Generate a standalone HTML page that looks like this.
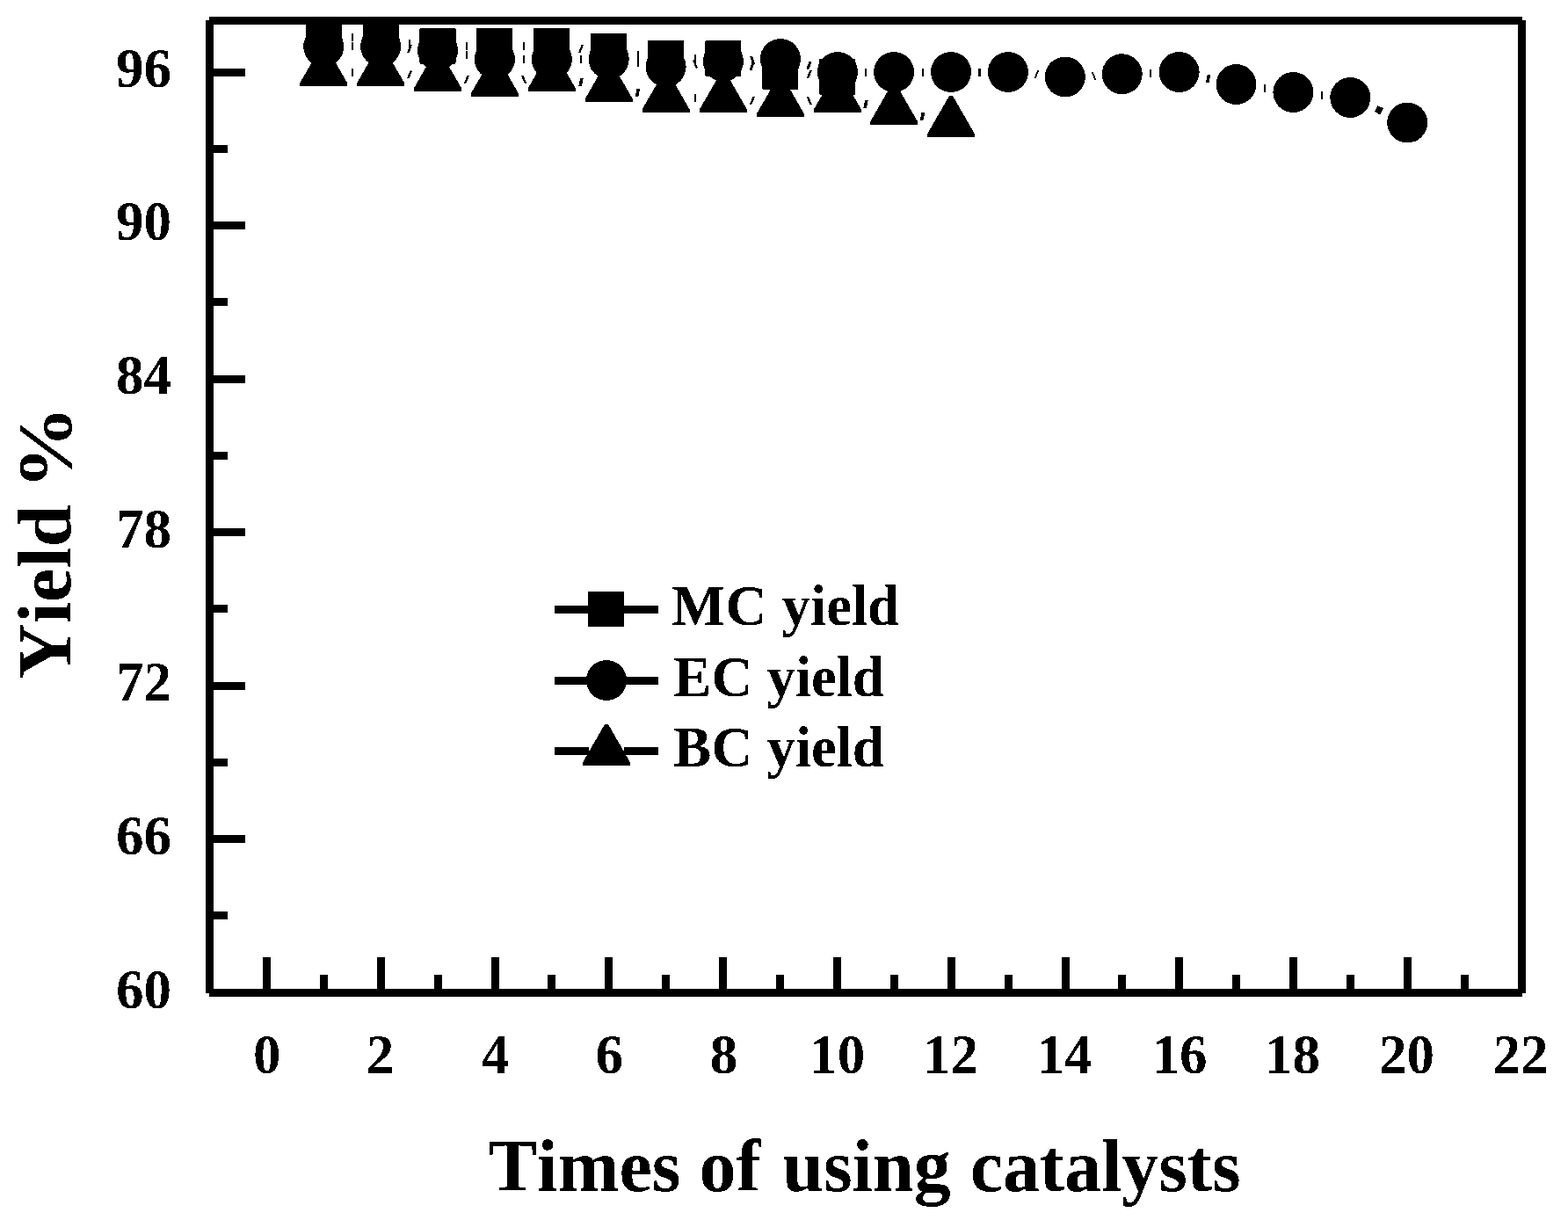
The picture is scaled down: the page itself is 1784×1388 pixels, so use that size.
<!DOCTYPE html>
<html lang="en"><head><meta charset="utf-8"><title>Times of using catalysts</title>
<style>
html,body{margin:0;padding:0;background:#fff;}
body{width:1784px;height:1388px;overflow:hidden;}
svg{display:block;}
text{font-family:"Liberation Serif","DejaVu Serif",serif;font-weight:bold;fill:#000;font-kerning:none;}
.tick{font-size:63px;}
.leg{font-size:65px;}
.xt{font-size:84px;}
.yt{font-size:87px;}
</style></head><body>
<svg width="1784" height="1388" viewBox="0 0 1784 1388">
<defs><filter id="bw" filterUnits="userSpaceOnUse" x="0" y="0" width="1784" height="1388" color-interpolation-filters="sRGB"><feComponentTransfer><feFuncR type="discrete" tableValues="0 1"/><feFuncG type="discrete" tableValues="0 1"/><feFuncB type="discrete" tableValues="0 1"/></feComponentTransfer></filter></defs>
<g id="chart" filter="url(#bw)">
<rect x="0" y="0" width="1784" height="1388" fill="#fff"/>
<g id="frame" fill="#000" shape-rendering="crispEdges">
<rect x="234" y="23" width="9" height="1107"/>
<rect x="1727" y="23" width="9" height="1107"/>
<rect x="238" y="19" width="1494" height="9"/>
<rect x="238" y="1125" width="1494" height="9"/>
</g>
<g id="yticks" fill="#000" shape-rendering="crispEdges">
<rect x="243" y="1037" width="16" height="9"/>
<rect x="243" y="950" width="36" height="9"/>
<rect x="243" y="863" width="16" height="9"/>
<rect x="243" y="776" width="36" height="9"/>
<rect x="243" y="688" width="16" height="9"/>
<rect x="243" y="601" width="36" height="9"/>
<rect x="243" y="514" width="16" height="9"/>
<rect x="243" y="427" width="36" height="9"/>
<rect x="243" y="339" width="16" height="9"/>
<rect x="243" y="252" width="36" height="9"/>
<rect x="243" y="165" width="16" height="9"/>
<rect x="243" y="78" width="36" height="9"/>
</g>
<g id="xticks" fill="#000" shape-rendering="crispEdges">
<rect x="299" y="1089" width="9" height="36"/>
<rect x="364" y="1109" width="9" height="16"/>
<rect x="429" y="1089" width="9" height="36"/>
<rect x="494" y="1109" width="9" height="16"/>
<rect x="559" y="1089" width="9" height="36"/>
<rect x="623" y="1109" width="9" height="16"/>
<rect x="688" y="1089" width="9" height="36"/>
<rect x="753" y="1109" width="9" height="16"/>
<rect x="818" y="1089" width="9" height="36"/>
<rect x="883" y="1109" width="9" height="16"/>
<rect x="948" y="1089" width="9" height="36"/>
<rect x="1013" y="1109" width="9" height="16"/>
<rect x="1078" y="1089" width="9" height="36"/>
<rect x="1143" y="1109" width="9" height="16"/>
<rect x="1208" y="1089" width="9" height="36"/>
<rect x="1272" y="1109" width="9" height="16"/>
<rect x="1337" y="1089" width="9" height="36"/>
<rect x="1402" y="1109" width="9" height="16"/>
<rect x="1467" y="1089" width="9" height="36"/>
<rect x="1532" y="1109" width="9" height="16"/>
<rect x="1597" y="1089" width="9" height="36"/>
<rect x="1662" y="1109" width="9" height="16"/>
</g>
<g id="ylabels" class="tick" text-anchor="end">
<text x="195" y="1146.7">60</text>
<text x="195" y="972.0">66</text>
<text x="195" y="797.4">72</text>
<text x="195" y="622.7">78</text>
<text x="195" y="448.0">84</text>
<text x="195" y="273.4">90</text>
<text x="195" y="98.7">96</text>
</g>
<g id="xlabels" class="tick" text-anchor="middle">
<text x="303.8" y="1220.5">0</text>
<text x="432.6" y="1220.5">2</text>
<text x="563.4" y="1220.5">4</text>
<text x="693.2" y="1220.5">6</text>
<text x="823.6" y="1220.5">8</text>
<text x="952.8" y="1220.5">10</text>
<text x="1081.5" y="1220.5">12</text>
<text x="1211.1" y="1220.5">14</text>
<text x="1342.1" y="1220.5">16</text>
<text x="1470.6" y="1220.5">18</text>
<text x="1600.4" y="1220.5">20</text>
<text x="1730.0" y="1220.5">22</text>
</g>
<text class="xt" y="1355"><tspan x="555.2">Times</tspan> <tspan x="795.5">of</tspan> <tspan x="890.2">using</tspan> <tspan x="1103.7">catalysts</tspan></text>
<text class="yt" transform="translate(80,772.2) rotate(-90)">Yield</text>
<text class="yt" transform="translate(80,556.8) rotate(-90) scale(1.0925,1)">%</text>
<g id="lines" fill="#000">
<rect x="400.0" y="38.0" width="2" height="9"/>
<rect x="465.0" y="45.0" width="2" height="9"/>
<rect x="530.0" y="48.0" width="2" height="9"/>
<rect x="595.0" y="48.0" width="2" height="9"/>
<polygon points="658.0,59.9 660.5,59.9 664.0,51.1 661.5,51.1"/>
<rect x="725.0" y="58.0" width="2" height="9"/>
<rect x="790.0" y="62.0" width="2" height="9"/>
<polygon points="852.4,79.9 855.4,79.9 858.6,71.1 855.6,71.1"/>
<polygon points="917.8,88.9 920.2,88.9 923.7,80.1 921.2,80.1"/>
<rect x="400.0" y="48.0" width="2" height="9"/>
<polygon points="463.1,60.0 465.6,60.0 468.9,51.2 466.4,51.2"/>
<rect x="530.0" y="57.8" width="2" height="9"/>
<rect x="595.0" y="63.0" width="2" height="9"/>
<rect x="660.0" y="63.0" width="2" height="9"/>
<rect x="725.0" y="66.7" width="2" height="9"/>
<polygon points="791.5,77.4 794.0,77.4 790.5,68.6 788.0,68.6"/>
<polygon points="856.1,72.6 859.1,72.6 855.9,63.8 852.9,63.8"/>
<polygon points="917.4,78.6 920.4,78.6 923.6,69.8 920.6,69.8"/>
<rect x="984.0" y="78.0" width="2" height="9"/>
<rect x="1049.0" y="78.0" width="2" height="9"/>
<rect x="1113.0" y="78.0" width="3" height="9"/>
<polygon points="1176.9,88.8 1178.9,88.8 1182.1,80.0 1180.1,80.0"/>
<polygon points="1245.1,90.7 1247.1,90.7 1243.9,81.9 1241.9,81.9"/>
<rect x="1308.0" y="78.9" width="2" height="9"/>
<polygon points="1371.9,93.9 1375.5,93.9 1377.3,85.1 1373.7,85.1"/>
<rect x="1438.0" y="95.9" width="2" height="9"/>
<rect x="1503.0" y="104.0" width="2" height="9"/>
<rect x="400.0" y="78.0" width="2" height="9"/>
<polygon points="463.1,89.2 465.6,89.2 468.9,80.4 466.4,80.4"/>
<polygon points="528.0,94.7 530.5,94.7 534.0,85.9 531.5,85.9"/>
<polygon points="596.5,94.7 599.0,94.7 595.5,85.9 593.0,85.9"/>
<polygon points="658.3,97.9 661.9,97.9 663.7,89.1 660.1,89.1"/>
<polygon points="722.8,109.7 726.4,109.7 728.2,100.9 724.6,100.9"/>
<rect x="790.0" y="106.9" width="2" height="9"/>
<polygon points="853.0,118.8 855.5,118.8 859.0,110.0 856.5,110.0"/>
<polygon points="921.2,118.9 923.7,118.9 920.2,110.1 917.8,110.1"/>
<polygon points="982.3,122.9 985.9,122.9 987.7,114.1 984.1,114.1"/>
<polygon points="1046.8,136.9 1050.4,136.9 1052.2,128.1 1048.6,128.1"/>
<polygon points="1564,127.1 1567.2,120 1573.8,122.9 1570.3,130.7"/>
</g>
<g id="mc" fill="#000">
<rect x="347.7" y="22.0" width="41" height="41" rx="1"/>
<rect x="412.6" y="22.0" width="41" height="41" rx="1"/>
<rect x="477.5" y="31.8" width="41" height="41" rx="1"/>
<rect x="542.4" y="31.8" width="41" height="41" rx="1"/>
<rect x="607.3" y="31.8" width="41" height="41" rx="1"/>
<rect x="672.2" y="38.0" width="41" height="41" rx="1"/>
<rect x="737.1" y="46.0" width="41" height="41" rx="1"/>
<rect x="802.4" y="46.0" width="41" height="41" rx="1"/>
<rect x="867.4" y="60.8" width="41" height="41" rx="1"/>
<rect x="932.4" y="66.8" width="41" height="41" rx="1"/>
</g>
<g id="ec" fill="#000">
<circle cx="368.2" cy="53.0" r="23"/>
<circle cx="433.1" cy="52.8" r="23"/>
<circle cx="498.0" cy="57.2" r="23"/>
<circle cx="562.9" cy="67.4" r="23"/>
<circle cx="627.8" cy="67.5" r="23"/>
<circle cx="692.7" cy="67.2" r="23"/>
<circle cx="757.6" cy="76.0" r="23"/>
<circle cx="822.9" cy="69.7" r="23"/>
<circle cx="887.9" cy="67.0" r="23"/>
<circle cx="952.9" cy="82.0" r="23"/>
<circle cx="1017.1" cy="82.0" r="23"/>
<circle cx="1082.0" cy="82.0" r="23"/>
<circle cx="1146.9" cy="82.0" r="23"/>
<circle cx="1211.8" cy="87.5" r="23"/>
<circle cx="1276.7" cy="84.2" r="23"/>
<circle cx="1341.6" cy="82.0" r="23"/>
<circle cx="1406.5" cy="96.0" r="23"/>
<circle cx="1471.4" cy="105.0" r="23"/>
<circle cx="1536.3" cy="111.0" r="23"/>
<circle cx="1601.2" cy="139.5" r="23"/>
</g>
<g id="bc" fill="#000">
<polygon points="341.2,98.0 341.2,94.6 366.2,51.0 370.2,51.0 395.2,94.6 395.2,98.0"/>
<polygon points="406.1,98.0 406.1,94.6 431.1,51.0 435.1,51.0 460.1,94.6 460.1,98.0"/>
<polygon points="471.0,103.7 471.0,100.3 496.0,56.7 500.0,56.7 525.0,100.3 525.0,103.7"/>
<polygon points="535.9,109.7 535.9,106.3 560.9,62.7 564.9,62.7 589.9,106.3 589.9,109.7"/>
<polygon points="600.8,103.7 600.8,100.3 625.8,56.7 629.8,56.7 654.8,100.3 654.8,103.7"/>
<polygon points="665.7,115.9 665.7,112.5 690.7,68.9 694.7,68.9 719.7,112.5 719.7,115.9"/>
<polygon points="730.6,128.0 730.6,124.6 755.6,81.0 759.6,81.0 784.6,124.6 784.6,128.0"/>
<polygon points="795.9,128.0 795.9,124.6 820.9,81.0 824.9,81.0 849.9,124.6 849.9,128.0"/>
<polygon points="860.9,133.0 860.9,129.6 885.9,86.0 889.9,86.0 914.9,129.6 914.9,133.0"/>
<polygon points="925.9,127.9 925.9,124.5 950.9,80.9 954.9,80.9 979.9,124.5 979.9,127.9"/>
<polygon points="990.1,141.9 990.1,138.5 1015.1,94.9 1019.1,94.9 1044.1,138.5 1044.1,141.9"/>
<polygon points="1055.0,155.9 1055.0,152.5 1080.0,108.9 1084.0,108.9 1109.0,152.5 1109.0,155.9"/>
</g>
<g id="legend" fill="#000">
<rect x="631" y="689" width="118" height="9" shape-rendering="crispEdges"/>
<rect x="669" y="673" width="41" height="40" rx="1"/>
<rect x="631" y="770" width="118" height="9" shape-rendering="crispEdges"/>
<circle cx="690" cy="774" r="23"/>
<rect x="631" y="850" width="39" height="9" shape-rendering="crispEdges"/>
<rect x="710" y="850" width="39" height="9" shape-rendering="crispEdges"/>
<polygon points="663.0,871.0 663.0,867.6 688.0,824.0 692.0,824.0 717.0,867.6 717.0,871.0"/>
<text class="leg" y="711"><tspan x="764.1">MC</tspan> <tspan x="889.6">yield</tspan></text>
<text class="leg" y="791.8"><tspan x="766.1">EC</tspan> <tspan x="872.4">yield</tspan></text>
<text class="leg" y="871.8"><tspan x="766.1">BC</tspan> <tspan x="872.4">yield</tspan></text>
</g>
</g>
</svg>
</body></html>
